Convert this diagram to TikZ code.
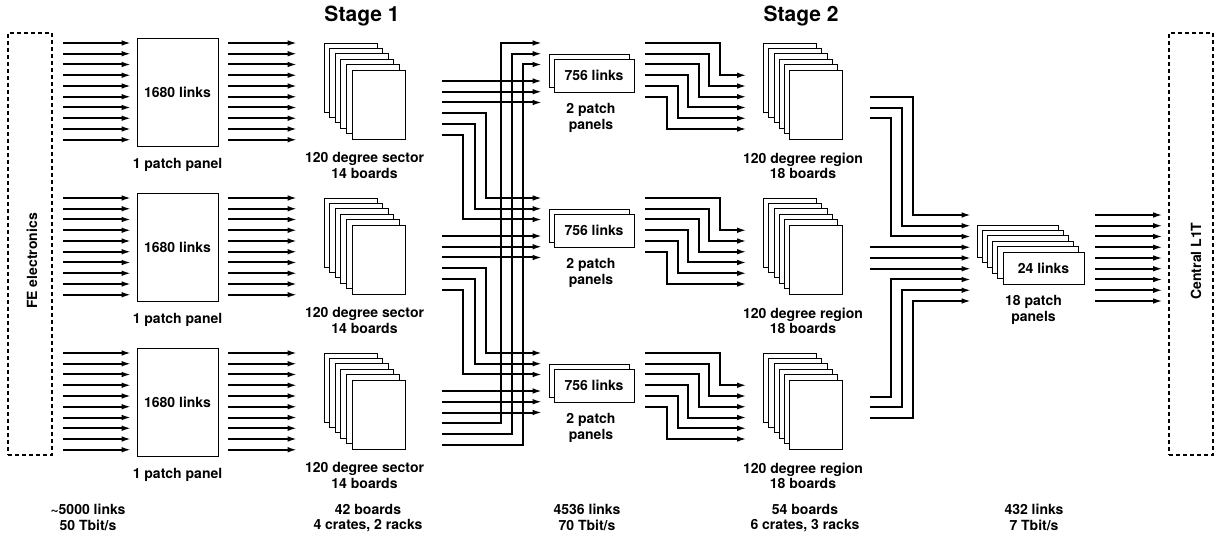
\documentclass[tikz,border=0pt]{standalone}
\usepackage{fontspec}
\setmainfont{TeX Gyre Heros}
\usepackage{tikz}
\usetikzlibrary{arrows.meta, positioning}

\begin{document}
\begin{tikzpicture}[x=1pt, y=-1pt,
  link/.style={line width=2pt, -{Latex[length=10pt, width=5.5pt]}},
  dashbox/.style={draw, line width=1.6pt, dash pattern=on 4pt off 3pt, minimum width=44pt, minimum height=422pt, inner sep=0pt},
  panel/.style={draw, fill=white, line width=0.8pt, inner sep=0pt, font=\fontsize{14}{15.5}\selectfont\bfseries},
  board/.style={panel, minimum width=53pt, minimum height=69pt},
  lbl/.style={font=\fontsize{14}{15.5}\selectfont\bfseries, align=center, inner sep=0pt},
  title/.style={font=\fontsize{21}{24}\selectfont\bfseries, inner sep=0pt}]

  \useasboundingbox (0,0) rectangle (1216,537);

  % Front end and central trigger
  \node[dashbox] (fe) at (30,244) {};
  \node[lbl, rotate=90] (fetxt) at (32,261) {FE electronics};
  \node[dashbox] (l1t) at (1191,244) {};
  \node[lbl, rotate=90] (l1ttxt) at (1196,261) {Central L1T};

  % Stage titles
  \node[title, anchor=base] (st1) at (362,22) {Stage 1};
  \node[title, anchor=base] (st2) at (801,22) {Stage 2};

  \foreach \r in {1,2,3} {
    \pgfmathsetmacro\dy{155*(\r-1)}
    % Stage 1 patch panels
    \node[panel, minimum width=81pt, minimum height=108pt] (pp\r) at (177.5,92+\dy) {1680 links};
    \node[lbl, below=12pt of pp\r] (pplbl\r) {1 patch panel};
    % Sector boards
    \foreach \i in {0,...,5}
      \node[board] (sec\r-\i) at (350.5+5.6*\i,77.5+5.4*\i+\dy) {};
    \node[lbl, below=13pt of sec\r-5, xshift=-14pt] (seclbl\r) {120 degree sector\\14 boards};
    % Stage 2 patch panels
    \node[panel, minimum width=80pt, minimum height=33pt] (sp\r-0) at (589,70.5+\dy) {};
    \node[panel, minimum width=80pt, minimum height=33pt] (sp\r) at (594,75.5+\dy) {756 links};
    \node[lbl, below=11pt of sp\r, xshift=-3pt] (splbl\r) {2 patch\\panels};
    % Region boards
    \foreach \i in {0,...,5}
      \node[board] (reg\r-\i) at (790+5.2*\i,77.5+5.4*\i+\dy) {};
    \node[lbl, below=13pt of reg\r-5, xshift=-13pt] (reglbl\r) {120 degree region\\18 boards};
  }

  % Final patch panels
  \foreach \i in {0,...,5}
    \node[panel, minimum width=81pt, minimum height=32pt] (fp-\i) at (1017.5+5.2*\i,241+5.4*\i) {};
  \node[panel, minimum width=81pt, minimum height=32pt] (fp) at (fp-5) {24 links};
  \node[lbl, below=11pt of fp, xshift=-10pt] (fplbl) {18 patch\\panels};

  % Totals
  \node[lbl, anchor=north] (tot1) at (88,504) {\textasciitilde 5000 links\\50 Tbit/s};
  \node[lbl, anchor=north] (tot2) at (368,504) {42 boards\\4 crates, 2 racks};
  \node[lbl, anchor=north] (tot3) at (587,504) {4536 links\\70 Tbit/s};
  \node[lbl, anchor=north] (tot4) at (805,504) {54 boards\\6 crates, 3 racks};
  \node[lbl, anchor=north] (tot5) at (1034,504) {432 links\\7 Tbit/s};

  % FE links into patch panels and on to sector boards
  \foreach \r in {1,2,3}
    \foreach \k in {0,...,9} {
      \pgfmathsetmacro\y{43+155*(\r-1)+10.75*\k}
      \draw[link] ([xshift=10pt]fe.east |- 0,\y) -- ([xshift=-5pt]pp\r.west |- 0,\y);
      \draw[link] ([xshift=10pt]pp\r.east |- 0,\y) -- ([xshift=-26pt]sec\r-0.west |- 0,\y);
    }

  % Sector boards straight into own patch panels
  \foreach \r in {1,2,3}
    \foreach \j in {0,1,2} {
      \pgfmathsetmacro\y{81+155*(\r-1)+10.75*\j}
      \draw[link] ([xshift=37pt]sec\r-5.east |- 0,\y) -- ([xshift=-6pt]sp\r-0.west |- 0,\y);
    }

  % Sector boards down into next patch panel
  \foreach \r/\n in {1/2,2/3}
    \foreach \j in {0,1,2} {
      \pgfmathsetmacro\yf{113.25+155*(\r-1)+10.75*\j}
      \pgfmathsetmacro\yt{198+155*(\r-1)+10.75*\j}
      \pgfmathsetmacro\xc{486-11.5*\j}
      \draw[link] ([xshift=37pt]sec\r-5.east |- 0,\yf) -| (\xc,\yt) -- ([xshift=-6pt]sp\n-0.west |- 0,\yt);
    }

  % Last sector wraps up to first patch panel
  \foreach \j in {0,1,2} {
    \pgfmathsetmacro\yf{423.25+10.75*\j}
    \pgfmathsetmacro\yt{43+10.75*\j}
    \pgfmathsetmacro\xc{501+11*\j}
    \draw[link] ([xshift=37pt]sec3-5.east |- 0,\yf) -| (\xc,\yt) -- ([xshift=-6pt]sp1-0.west |- 0,\yt);
  }

  % Stage 2 patch panels into region boards
  \foreach \r in {1,2,3}
    \foreach \k in {0,...,5} {
      \pgfmathsetmacro\y{43+155*(\r-1)+10.75*\k}
      \pgfmathsetmacro\yy{\y+32.25}
      \pgfmathsetmacro\xc{720-10.6*\k}
      \draw[link] ([xshift=11pt]sp\r.east |- 0,\y) -| (\xc,\yy) -- ([xshift=-16pt]reg\r-0.west |- 0,\yy);
    }

  % Region boards into final patch panels
  \foreach \j in {0,1,2} {
    \pgfmathsetmacro\ya{97+10.75*\j}
    \pgfmathsetmacro\yb{215+10.75*\j}
    \pgfmathsetmacro\xa{913-11*\j}
    \draw[link] ([xshift=27pt]reg1-5.east |- 0,\ya) -| (\xa,\yb) -- ([xshift=-5pt]fp-0.west |- 0,\yb);
    \pgfmathsetmacro\ym{247.25+10.75*\j}
    \draw[link] ([xshift=27pt]reg2-5.east |- 0,\ym) -- ([xshift=-5pt]fp-0.west |- 0,\ym);
    \pgfmathsetmacro\yc{396.5+10.75*\j}
    \pgfmathsetmacro\yd{279.5+10.75*\j}
    \pgfmathsetmacro\xb{891+11*\j}
    \draw[link] ([xshift=27pt]reg3-5.east |- 0,\yc) -| (\xb,\yd) -- ([xshift=-5pt]fp-0.west |- 0,\yd);
  }

  % Final patch panels to central trigger
  \foreach \m in {0,...,8} {
    \pgfmathsetmacro\y{215+10.75*\m}
    \draw[link] ([xshift=11pt]fp.east |- 0,\y) -- ([xshift=-5pt]l1t.west |- 0,\y);
  }

\end{tikzpicture}
\end{document}
